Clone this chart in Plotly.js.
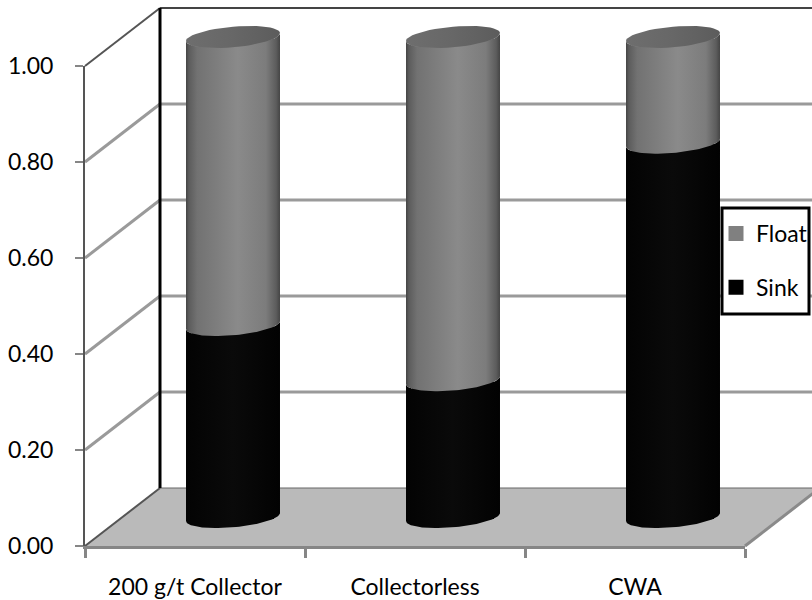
<!DOCTYPE html>
<html>
<head>
<meta charset="utf-8">
<script src="https://cdn.plot.ly/plotly-3.0.1.min.js"></script>
<style>html,body{margin:0;padding:0;background:#fff}</style>
</head>
<body>
<div id="chart" style="width:812px;height:600px"></div>
<script>
// Sink and float fractions for each reagent scheme
const categories = ['200 g/t Collector', 'Collectorless', 'CWA'];
const sink = [0.40, 0.285, 0.78];
const float_ = [0.60, 0.715, 0.22];
const yTicks = [0, 0.2, 0.4, 0.6, 0.8, 1.0];

const W = 812, H = 600;
const px = v => v / W;
const py = v => 1 - v / H;

// Frame of the pseudo-3D box, in page pixels
const front = {left: 85, right: 745, bottom: 546, top: 66};
const depth = {dx: 75, dy: -58};
const mid = {dx: 38, dy: -29};
const unitPx = front.bottom - front.top;
const barPad = 0.05; // headroom so the elliptical ends are not clipped

// Cylinder proportions, in axis units of the bar subplot
const barWidth = 0.36;
const radius = 0.2136;
const capHeight = 0.0215;
const tilt = 0.0083;

function ellipsePoint(center, level, t) {
  return [center + radius * Math.cos(t), level + capHeight * Math.sin(t) + tilt * Math.cos(t)];
}

function arc(center, level, from, to) {
  const xs = [], ys = [];
  const steps = 48;
  for (let i = 0; i <= steps; i++) {
    const p = ellipsePoint(center, level, from + (to - from) * i / steps);
    xs.push(p[0]);
    ys.push(p[1]);
  }
  return {xs, ys};
}

// Body between two levels: front arc of the lower end, then front arc of the upper end backwards
function bodyTrace(center, lo, hi, scale) {
  const a = arc(center, lo, Math.PI, 2 * Math.PI);
  const b = arc(center, hi, 2 * Math.PI, Math.PI);
  return {
    type: 'scatter', xaxis: 'x2', yaxis: 'y2', mode: 'lines',
    x: a.xs.concat(b.xs), y: a.ys.concat(b.ys),
    fill: 'toself', line: {width: 0}, showlegend: false, hoverinfo: 'skip',
    fillgradient: {type: 'horizontal', colorscale: scale}
  };
}

function capTrace(center, level, scale) {
  const c = arc(center, level, 0, 2 * Math.PI);
  return {
    type: 'scatter', xaxis: 'x2', yaxis: 'y2', mode: 'lines',
    x: c.xs, y: c.ys, fill: 'toself', line: {width: 0},
    showlegend: false, hoverinfo: 'skip',
    fillgradient: {type: 'horizontal', colorscale: scale}
  };
}

const floatShade = [[0, '#444444'], [0.03, '#5c5c5c'], [0.12, '#727272'], [0.55, '#8a8a8a'], [0.85, '#7c7c7c'], [0.96, '#5c5c5c'], [1, '#444444']];
const sinkShade = [[0, '#030303'], [0.5, '#0a0a0a'], [1, '#020202']];
const capShade = [[0, '#6e6e6e'], [0.5, '#676767'], [1, '#5c5c5c']];

const indices = categories.map((_, i) => i);
const traces = [
  // Keeps the category labels on the front axis
  {type: 'scatter', x: categories, y: sink, mode: 'markers', marker: {opacity: 0}, showlegend: false, hoverinfo: 'skip'},
  {type: 'bar', name: 'Sink', x: indices, y: sink, xaxis: 'x2', yaxis: 'y2', width: barWidth,
   marker: {color: '#000000', line: {width: 3, color: '#000000'}}, legendgroup: 'sink', legendrank: 2},
  {type: 'bar', name: 'Float', x: indices, y: float_, xaxis: 'x2', yaxis: 'y2', width: barWidth,
   marker: {color: '#808080', line: {width: 3, color: '#808080'}}, legendgroup: 'float', legendrank: 1}
];
indices.forEach(i => {
  const top = sink[i] + float_[i];
  traces.push(bodyTrace(i, 0, sink[i], sinkShade));
  traces.push(bodyTrace(i, sink[i], top, floatShade));
});
indices.forEach(i => {
  traces.push(capTrace(i, sink[i] + float_[i], capShade));
});

// Box walls, floor and gridlines sit behind the cylinders
const segment = (x0, y0, x1, y1, color, width) => ({
  type: 'line', xref: 'paper', yref: 'paper', layer: 'below',
  x0: px(x0), y0: py(y0), x1: px(x1), y1: py(y1),
  line: {color, width}
});
const backRight = front.right + depth.dx;
const backLeft = front.left + depth.dx;
const levelPx = v => front.bottom + (front.top - front.bottom) * v;
const shapes = [{
  type: 'path', xref: 'paper', yref: 'paper', layer: 'below',
  path: 'M' + px(front.left) + ',' + py(front.bottom) +
        'L' + px(front.right) + ',' + py(front.bottom) +
        'L' + px(backRight) + ',' + py(front.bottom + depth.dy) +
        'L' + px(backLeft) + ',' + py(front.bottom + depth.dy) + 'Z',
  fillcolor: '#bababa', line: {width: 0}
}];
yTicks.forEach(v => {
  const y = levelPx(v);
  if (v > 0 && v < 1) {
    shapes.push(segment(front.left, y, backLeft, y + depth.dy, '#9a9a9a', 3));
    shapes.push(segment(backLeft, y + depth.dy, W + 10, y + depth.dy, '#9a9a9a', 3));
  } else {
    shapes.push(segment(front.left, y, backLeft, y + depth.dy, '#555555', 2));
    shapes.push(segment(backLeft, y + depth.dy, W + 10, y + depth.dy, v === 1 ? '#444444' : '#666666', v === 1 ? 2 : 1));
  }
});
shapes.push(segment(backLeft, front.top + depth.dy, backLeft, front.bottom + depth.dy, '#000000', 3));
shapes.push(segment(front.right, front.bottom, backRight, front.bottom + depth.dy, '#8a8a8a', 3));
// Legend frame, drawn under the legend entries
shapes.push({
  type: 'rect', xref: 'paper', yref: 'paper', layer: 'above',
  x0: px(722), y0: py(208), x1: px(809), y1: py(314),
  fillcolor: '#ffffff', line: {color: '#000000', width: 3}
});

const labelFont = {family: 'Lato, "Open Sans", sans-serif', size: 23, color: '#000000'};

const layout = {
  width: W, height: H,
  margin: {l: 0, r: 0, t: 0, b: 0, pad: 0, autoexpand: false},
  paper_bgcolor: '#ffffff', plot_bgcolor: 'rgba(0,0,0,0)',
  barmode: 'stack',
  hovermode: false,
  shapes,
  xaxis: {
    domain: [px(front.left), px(front.right)], anchor: 'y',
    type: 'category', categoryorder: 'array', categoryarray: categories,
    range: [-0.5, 2.5], tickson: 'boundaries', ticks: 'outside', ticklen: 9, tickwidth: 3,
    tickcolor: '#868686', showgrid: false, zeroline: false, showline: true,
    linecolor: '#868686', linewidth: 3, tickfont: labelFont, ticklabelstandoff: 18
  },
  yaxis: {
    domain: [py(front.bottom), py(front.top)], anchor: 'x',
    range: [0, 1], tickmode: 'array', tickvals: yTicks, tickformat: '.2f',
    ticks: 'outside', ticklen: 8, tickwidth: 2, tickcolor: '#868686',
    showgrid: false, zeroline: false, showline: true, linecolor: '#555555', linewidth: 2,
    tickfont: labelFont, ticklabelstandoff: 17
  },
  xaxis2: {
    domain: [px(front.left + mid.dx), px(front.right + mid.dx)], anchor: 'y2',
    range: [-0.5, 2.5], visible: false
  },
  yaxis2: {
    domain: [py(front.bottom + mid.dy + barPad * unitPx), py(front.top + mid.dy - barPad * unitPx)], anchor: 'x2',
    range: [-barPad, 1 + barPad], visible: false
  },
  legend: {
    x: px(716), y: py(212), xanchor: 'left', yanchor: 'top',
    traceorder: 'grouped', tracegroupgap: 21,
    bgcolor: 'rgba(0,0,0,0)', borderwidth: 0,
    font: labelFont, itemclick: false, itemdoubleclick: false
  }
};

Plotly.newPlot('chart', traces, layout, {displayModeBar: false, staticPlot: true});
</script>
</body>
</html>
